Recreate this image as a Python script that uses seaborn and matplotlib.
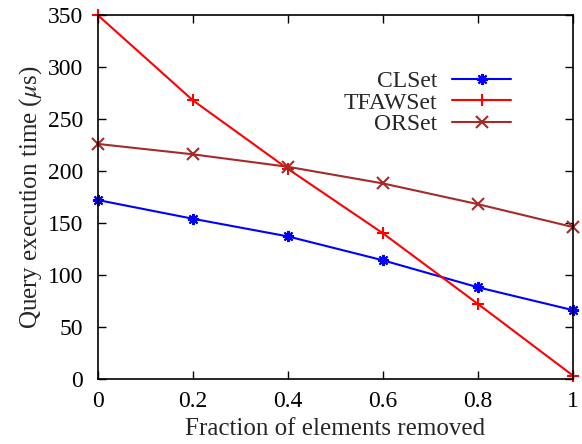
import matplotlib
matplotlib.use("Agg")
import matplotlib.pyplot as plt
import seaborn as sns
import pandas as pd

fractions = [0, 0.2, 0.4, 0.6, 0.8, 1.0]
clset = [172, 154, 137, 114, 88, 66]
tfawset = [350, 268, 202, 140, 72, 3]
orset = [226, 216, 204, 188, 168, 146]
series_names = ["CLSet", "TFAWSet", "ORSet"]
x_ticks = [0, 0.2, 0.4, 0.6, 0.8, 1]
x_tick_labels = ["0", "0.2", "0.4", "0.6", "0.8", "1"]
y_ticks = [0, 50, 100, 150, 200, 250, 300, 350]

sns.set_theme(style="ticks")
plt.rcParams['font.family'] = ['Liberation Serif', 'DejaVu Serif']
plt.rcParams['mathtext.fontset'] = 'stix'

rows = []
for name, vals in zip(series_names, [clset, tfawset, orset]):
    for f, v in zip(fractions, vals):
        rows.append({"frac": f, "time": v, "set": name})
df = pd.DataFrame(rows)

palette = {"CLSet": "#0000ff", "TFAWSet": "#ff0000", "ORSet": "#a52a2a"}
markers = {"CLSet": (8, 2, 0), "TFAWSet": "+", "ORSet": "x"}

fig = plt.figure(figsize=(5.82, 4.44), dpi=100)
ax = fig.add_axes([0.168, 0.147, 0.8165, 0.819])
sns.lineplot(data=df, x="frac", y="time", hue="set", style="set",
             palette=palette, markers=markers, dashes=False,
             markersize=8, markeredgewidth=1.5, linewidth=1.5, ax=ax)
for ln in ax.lines:
    ln.set_markeredgecolor(ln.get_color())
    ln.set_clip_on(False)

ax.set_xlim(0, 1)
ax.set_ylim(0, 350)
ax.set_xticks(x_ticks)
ax.set_xticklabels(x_tick_labels)
ax.set_yticks(y_ticks)
ax.tick_params(direction="in", top=True, right=True, labelsize=17, length=6, width=1, colors="black")
ax.tick_params(axis="x", pad=8.5)
ax.tick_params(axis="y", pad=10.5)
for s in ax.spines.values():
    s.set_linewidth(1.2)
    s.set_color("black")
ax.set_xlabel("Fraction of elements removed", fontsize=18, labelpad=5)
ax.set_ylabel(r"Query execution time ($\mu$s)", fontsize=18, labelpad=2.5)

handles, labels = ax.get_legend_handles_labels()
for h in handles:
    h.set_markeredgecolor(h.get_color())
leg = ax.legend(handles, labels, loc="upper right", bbox_to_anchor=(0.895, 0.88),
                markerfirst=False, frameon=False, fontsize=17, handlelength=2.5,
                handletextpad=0.65, labelspacing=0.0, borderpad=0)

fig.savefig("out.png", dpi=100)
